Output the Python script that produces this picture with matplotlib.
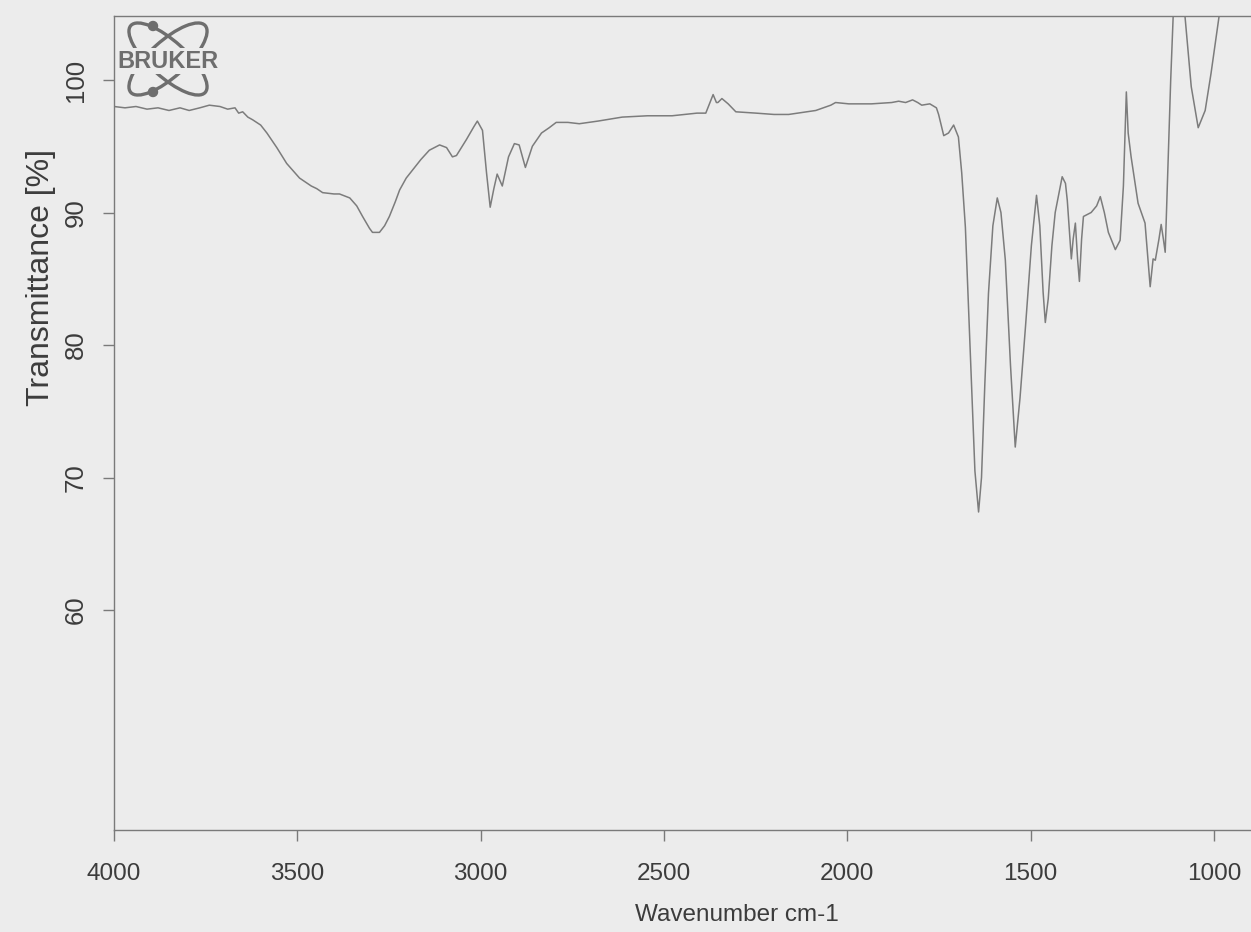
import matplotlib
matplotlib.use("Agg")
import matplotlib.pyplot as plt
from matplotlib.patches import Ellipse, Circle

plt.rcParams["font.family"] = ["Liberation Sans", "DejaVu Sans"]

# FTIR spectrum (wavenumber cm-1, transmittance %)
wavenumber = [
    4000, 3970, 3940, 3910, 3880, 3850, 3820, 3795, 3766, 3740, 3711, 3690, 3670, 3660,
    3649, 3635, 3622, 3600, 3583, 3556, 3529, 3494, 3462, 3447, 3431, 3400, 3385, 3357,
    3338, 3322, 3303, 3295, 3276, 3262, 3249, 3233, 3221, 3203, 3186, 3163, 3140, 3112,
    3093, 3077, 3066, 3039, 3018, 3009, 2995, 2984, 2974, 2964, 2955, 2941, 2924, 2908,
    2895, 2878, 2859, 2834, 2813, 2794, 2762, 2731, 2680, 2614, 2545, 2478, 2410, 2386,
    2366, 2357, 2353, 2342, 2325, 2304, 2249, 2200, 2160, 2086, 2045, 2032, 1996, 1934,
    1879, 1860, 1841, 1822, 1808, 1797, 1775, 1757, 1751, 1737, 1724, 1710, 1697, 1688,
    1678, 1664, 1652, 1642, 1634, 1625, 1615, 1603, 1591, 1581, 1569, 1555, 1542, 1529,
    1514, 1498, 1484, 1475, 1466, 1460, 1452, 1442, 1433, 1414, 1405, 1400, 1394, 1389,
    1384, 1378, 1372, 1367, 1361, 1356, 1335, 1320, 1310, 1299, 1288, 1269, 1256, 1247,
    1239, 1234, 1226, 1207, 1188, 1180, 1174, 1166, 1160, 1150, 1144, 1138, 1133, 1126,
    1118, 1111, 1105, 1085, 1079, 1071, 1062, 1043, 1024, 1008, 986, 970,
]
transmittance = [
    98.0, 97.9, 98.0, 97.8, 97.9, 97.7, 97.9, 97.7, 97.9, 98.1, 98.0, 97.8, 97.9, 97.5,
    97.6, 97.2, 97.0, 96.6, 96.0, 94.9, 93.7, 92.6, 92.0, 91.8, 91.5, 91.4, 91.4, 91.1,
    90.5, 89.7, 88.8, 88.5, 88.5, 89.0, 89.7, 90.8, 91.7, 92.6, 93.2, 94.0, 94.7, 95.1,
    94.9, 94.2, 94.3, 95.5, 96.5, 96.9, 96.2, 93.0, 90.4, 91.8, 92.9, 92.0, 94.2, 95.2,
    95.1, 93.4, 95.0, 96.0, 96.4, 96.8, 96.8, 96.7, 96.9, 97.2, 97.3, 97.3, 97.5, 97.5,
    98.9, 98.3, 98.3, 98.6, 98.2, 97.6, 97.5, 97.4, 97.4, 97.7, 98.1, 98.3, 98.2, 98.2,
    98.3, 98.4, 98.3, 98.5, 98.3, 98.1, 98.2, 97.9, 97.4, 95.8, 96.0, 96.6, 95.7, 93.0,
    88.9, 79.0, 70.5, 67.4, 70.0, 77.0, 83.9, 89.0, 91.1, 90.0, 86.4, 78.5, 72.3, 76.0,
    81.4, 87.5, 91.3, 89.0, 84.0, 81.7, 83.5, 87.5, 90.0, 92.7, 92.2, 90.9, 88.5, 86.5,
    88.0, 89.2, 86.5, 84.8, 88.0, 89.7, 90.0, 90.5, 91.2, 90.0, 88.5, 87.2, 87.9, 92.0,
    99.1, 96.0, 94.2, 90.7, 89.2, 86.5, 84.4, 86.5, 86.4, 88.0, 89.1, 88.0, 87.0, 93.0,
    100.0, 105.0, 108.0, 108.0, 104.8, 102.3, 99.5, 96.4, 97.7, 100.5, 104.8, 108.0,
]

x_ticks = [4000, 3500, 3000, 2500, 2000, 1500, 1000]
y_ticks = [60, 70, 80, 90, 100]

paper = "#ececec"
ink = "#3c3c3c"
trace = "#7c7c7c"

W, H = 1251, 932
fig = plt.figure(figsize=(W / 100, H / 100), dpi=100, facecolor=paper)
ax = fig.add_axes([114 / W, (H - 830) / H, (W - 114) / W, (830 - 16) / H])
ax.set_facecolor(paper)

ax.plot(wavenumber, transmittance, color=trace, lw=1.1)

ax.set_xlim(4000, 899)
ax.set_ylim(43.4, 104.83)
ax.set_xticks(x_ticks)
ax.set_yticks(y_ticks)

for side in ["left", "bottom", "top"]:
    ax.spines[side].set_color("#7a7a7a")
    ax.spines[side].set_linewidth(1.0)
ax.spines["right"].set_visible(False)

ax.tick_params(axis="x", direction="out", length=8, width=1, color="#7a7a7a",
               labelsize=17.5, labelcolor=ink, pad=16)
ax.tick_params(axis="y", direction="out", length=8, width=1, color="#7a7a7a",
               labelsize=18.5, labelcolor=ink, pad=11, labelrotation=90)
for lbl in ax.get_yticklabels():
    lbl.set_va("center")

fig.text(737 / W, 1 - 915 / H, "Wavenumber cm-1", ha="center", va="center",
         fontsize=17.5, color=ink)
fig.text(41 / W, 1 - 278 / H, "Transmittance [%]", ha="center", va="center",
         rotation=90, fontsize=23, color=ink)

# Bruker logo in the top-left corner
logo = "#6e6e6e"
cx, cy = 168 / 100, (H - 59) / 100
for ang in (-42, 42):
    fig.add_artist(Ellipse((cx, cy), 1.0, 0.36, angle=ang, fill=False, lw=2.4,
                           edgecolor=logo, transform=fig.dpi_scale_trans))
for py in (26, 92):
    fig.add_artist(Circle((153 / 100, (H - py) / 100), 0.045, color=logo,
                          transform=fig.dpi_scale_trans))
fig.text(168 / W, 1 - 61 / H, "BRUKER", ha="center", va="center", fontsize=17,
         fontweight="bold", color=logo,
         bbox=dict(boxstyle="square,pad=0.05", fc=paper, ec="none"))

fig.savefig("out.png", dpi=100, facecolor=paper)
